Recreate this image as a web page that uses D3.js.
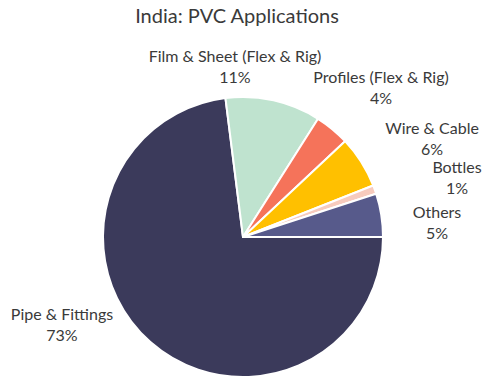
<!DOCTYPE html>
<html>
<head>
<meta charset="utf-8">
<script src="https://cdn.jsdelivr.net/npm/d3@7"></script>
<style>
  html, body { margin: 0; padding: 0; background: #fff; }
  text { font-family: Lato, "Open Sans", "Liberation Sans", sans-serif; fill: #3a3a3a; }
</style>
</head>
<body>
<svg id="chart" width="486" height="381"></svg>
<script>
// Market share of PVC end uses (percent)
const categories = ["Pipe & Fittings", "Film & Sheet (Flex & Rig)", "Profiles (Flex & Rig)", "Wire & Cable", "Bottles", "Others"];
const shares = [73, 11, 4, 6, 1, 5];
const colors = ["#3b3a5b", "#bfe3cf", "#f5735a", "#ffc000", "#f7cbbd", "#575a8b"];

// first-line baseline of each two-line label, relative to the pie centre
const labelAnchors = [[-181, 83], [-8, -175], [138, -154], [189, -103], [214, -64], [194, -19]];

const cx = 243, cy = 237, R = 140;
const lineGap = 21;

const svg = d3.select("#chart");

svg.append("text")
  .attr("x", 237).attr("y", 23)
  .attr("text-anchor", "middle")
  .style("font-size", "20px")
  .text("India: PVC Applications");

const data = categories.map((c, i) => ({ name: c, value: shares[i], color: colors[i], anchor: labelAnchors[i] }));

// slices start at 3 o'clock and run clockwise
const pie = d3.pie().sort(null).value(d => d.value)
  .startAngle(Math.PI / 2).endAngle(Math.PI / 2 + 2 * Math.PI);
const arc = d3.arc().innerRadius(0).outerRadius(R);

const g = svg.append("g").attr("transform", `translate(${cx},${cy})`);

g.selectAll("path")
  .data(pie(data))
  .join("path")
  .attr("d", arc)
  .attr("fill", d => d.data.color)
  .attr("stroke", "#fff")
  .attr("stroke-width", 2)
  .attr("stroke-linejoin", "round");

const labels = g.selectAll("text.lbl")
  .data(pie(data))
  .join("text")
  .attr("class", "lbl")
  .attr("text-anchor", "middle")
  .style("font-size", "16px")
  .attr("transform", d => `translate(${d.data.anchor[0]},${d.data.anchor[1]})`);

labels.append("tspan").attr("x", 0).attr("y", 0).text(d => d.data.name);
labels.append("tspan").attr("x", 0).attr("y", lineGap).text(d => `${d.data.value}%`);
</script>
</body>
</html>
